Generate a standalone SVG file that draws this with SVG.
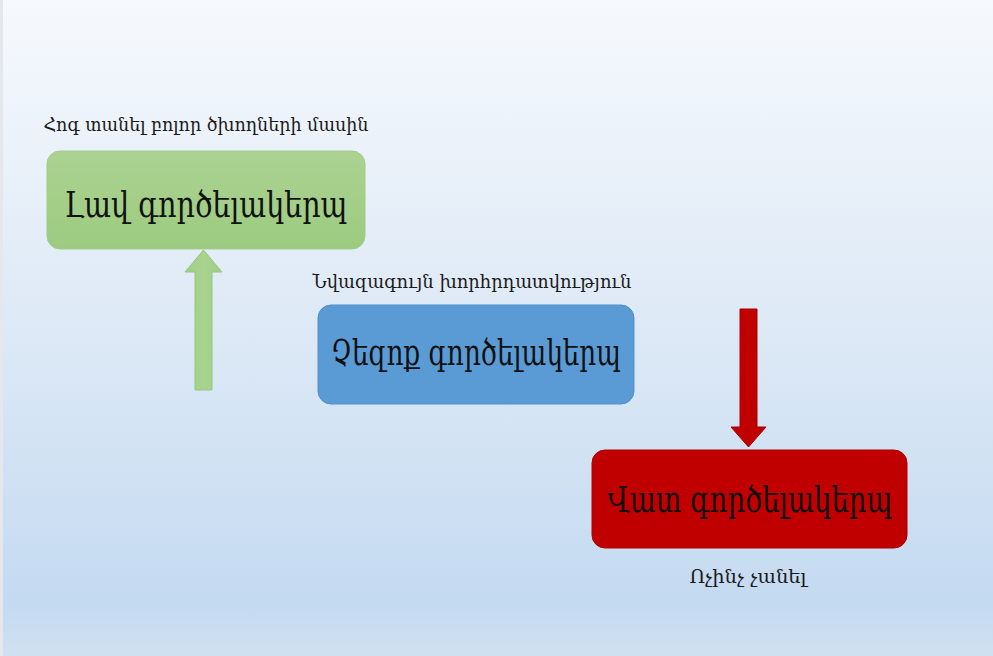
<svg xmlns="http://www.w3.org/2000/svg" width="993" height="656" viewBox="0 0 993 656">
  <defs>
    <linearGradient id="bg" x1="0" y1="0" x2="0" y2="1">
      <stop offset="0" stop-color="#f6f9fd"/>
      <stop offset="0.5" stop-color="#dde9f6"/>
      <stop offset="0.92" stop-color="#c4daf1"/>
      <stop offset="1" stop-color="#cfe1f1"/>
    </linearGradient>
    <linearGradient id="gGreen" x1="0" y1="0" x2="0" y2="1">
      <stop offset="0" stop-color="#acd291"/>
      <stop offset="1" stop-color="#9ccb80"/>
    </linearGradient>
    <linearGradient id="gArrowGreen" x1="0" y1="0" x2="1" y2="0">
      <stop offset="0" stop-color="#9dcc86"/>
      <stop offset="0.5" stop-color="#a9d48f"/>
      <stop offset="1" stop-color="#9dcc86"/>
    </linearGradient>
    <style>
      .box-text { font-family: "DejaVu Serif", "Noto Serif", serif; font-size: 35px; fill: #111; text-anchor: middle; }
      .note { font-family: "DejaVu Serif", "Noto Serif", serif; font-size: 18px; fill: #1a1a1a; text-anchor: middle; }
    </style>
  </defs>

  <rect x="0" y="0" width="993" height="656" fill="url(#bg)"/>
  <rect x="0" y="0" width="3" height="656" fill="#e4e8ec"/>

  <g id="connectors">
    <!-- up arrow into the good-practice box -->
    <path d="M195,390 L195,272 L185,272 L203.5,250 L222,272 L212,272 L212,390 Z" fill="url(#gArrowGreen)" stroke="#98c77e" stroke-width="1"/>
    <!-- down arrow into the bad-practice box -->
    <path d="M740,309 L757,309 L757,427 L766,427 L748.5,447 L731,427 L740,427 Z" fill="#c00000" stroke="#a80000" stroke-width="1"/>
  </g>

  <g id="good">
    <text class="note" x="206" y="131" textLength="325" lengthAdjust="spacingAndGlyphs">Հոգ տանել բոլոր ծխողների մասին</text>
    <rect x="47" y="151" width="318" height="98" rx="13" fill="url(#gGreen)" stroke="#a3cc8a" stroke-width="1"/>
    <text class="box-text" x="206" y="217" textLength="283" lengthAdjust="spacingAndGlyphs">Լավ գործելակերպ</text>
  </g>

  <g id="neutral">
    <text class="note" x="472" y="288" textLength="319" lengthAdjust="spacingAndGlyphs">Նվազագույն խորհրդատվություն</text>
    <rect x="318" y="305" width="316" height="99" rx="13" fill="#5b9bd5" stroke="#528fca" stroke-width="1"/>
    <text class="box-text" x="476" y="365" textLength="290" lengthAdjust="spacingAndGlyphs">Չեզոք գործելակերպ</text>
  </g>

  <g id="bad">
    <rect x="592" y="450" width="315" height="98" rx="13" fill="#c00000" stroke="#b00000" stroke-width="1"/>
    <text class="box-text" x="750" y="512" textLength="285" lengthAdjust="spacingAndGlyphs">Վատ գործելակերպ</text>
    <text class="note" x="748" y="583" textLength="117" lengthAdjust="spacingAndGlyphs">Ոչինչ չանել</text>
  </g>
</svg>
